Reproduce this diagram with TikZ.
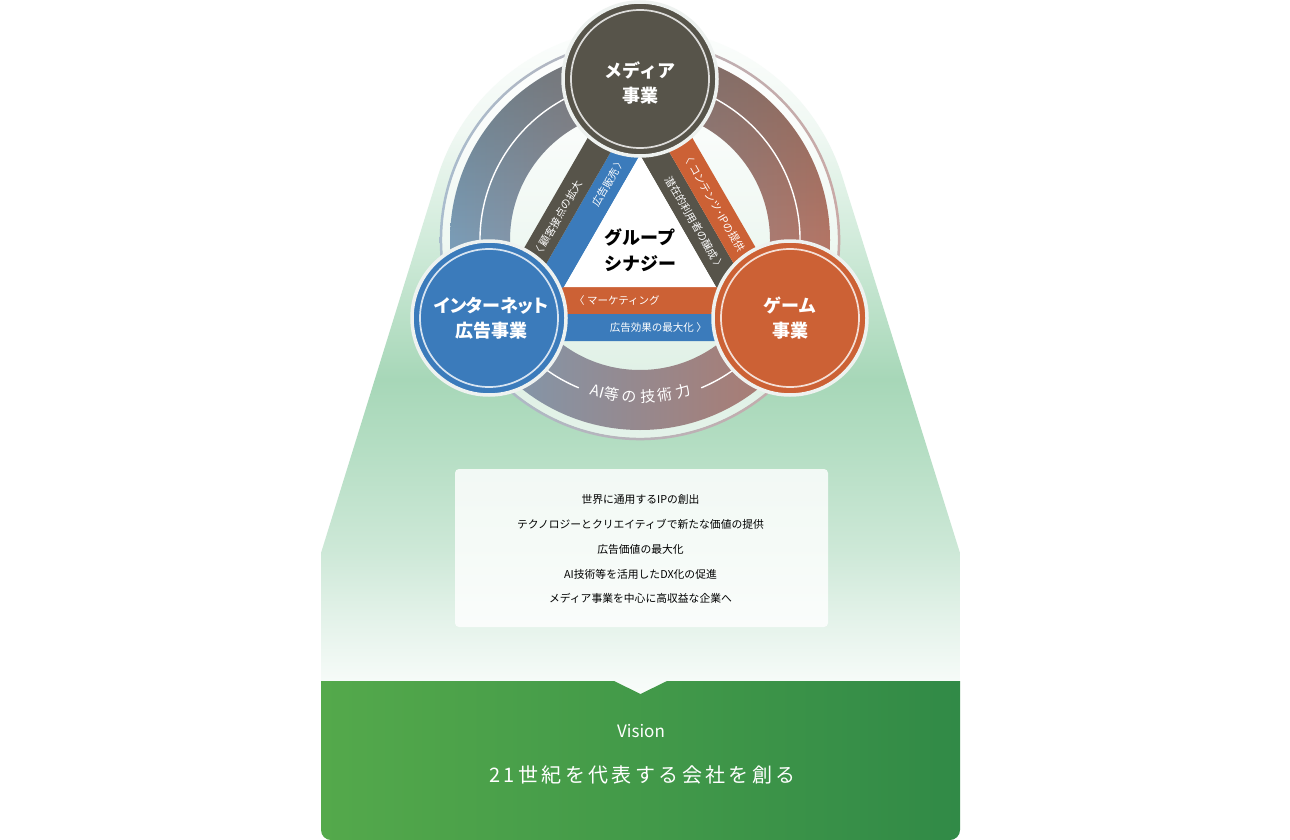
\documentclass[tikz,border=0pt]{standalone}
\usepackage{fontspec}
\setmainfont{Noto Sans CJK JP}
\newfontfamily\jpsp[LetterSpace=17]{Noto Sans CJK JP}
\usetikzlibrary{fadings,calc}
\definecolor{mediac}{HTML}{57544A}
\definecolor{netc}{HTML}{3B7BBB}
\definecolor{gamec}{HTML}{CC6135}
\definecolor{ringl}{HTML}{7A9CB6}
\definecolor{ringm}{HTML}{968B92}
\definecolor{ringr}{HTML}{B37565}
\definecolor{thinl}{HTML}{A9BCCD}
\definecolor{thinr}{HTML}{C9A9A6}
\definecolor{ringwhite}{HTML}{EEF2F0}
\definecolor{vgl}{HTML}{54A94B}
\definecolor{vgr}{HTML}{318A47}
\definecolor{fa}{HTML}{F9FCFA}
\definecolor{fb}{HTML}{F6FBF8}
\definecolor{fc}{HTML}{E3F2E9}
\definecolor{fd}{HTML}{CDE8D7}
\definecolor{fe}{HTML}{B3DDC2}
\definecolor{ff}{HTML}{A7D7B8}
\definecolor{fg}{HTML}{D3ECDC}
\definecolor{fh}{HTML}{F0F8F3}
\pgfdeclareverticalshading{funnelshade}{100bp}{color(0bp)=(fa); color(25bp)=(fa); color(26.1bp)=(fb); color(30.6bp)=(fc); color(35.5bp)=(fd); color(43.3bp)=(fe); color(47.8bp)=(ff); color(58.3bp)=(fg); color(65.7bp)=(fh); color(75bp)=(white); color(100bp)=(white)}
\tikzfading[name=topdarkfade, top color=transparent!55, bottom color=transparent!100, middle color=transparent!100]
\begin{document}
\begin{tikzpicture}[x=1pt,y=-1pt,
  biz/.style={circle, minimum size=154pt, inner sep=0pt, draw=ringwhite, line width=3.5pt},
  bizlabel/.style={text=white, align=center, inner sep=0pt, font=\bfseries\fontsize{18}{25}\selectfont},
  innerring/.style={draw=white, draw opacity=0.8, line width=1.7pt},
  bandtxt/.style={text=white, inner sep=0pt, font=\fontsize{10.5}{12}\selectfont},
  aitxt/.style={text=white, inner sep=0pt, font=\fontsize{15}{16}\selectfont},
  goaltxt/.style={text=black, inner sep=0pt, font=\fontsize{10.8}{12}\selectfont},
  synergy/.style={text=black, align=center, inner sep=0pt, font=\bfseries\fontsize{18}{26}\selectfont}]
\useasboundingbox (0,0) rectangle (1290,840);
\fill[white] (0,0) rectangle (1290,840);
% funnel background
\shade[shading=funnelshade] (321,695) -- (321,553) -- (437.5,177.2)
  arc[start angle=197.22, end angle=342.78, radius=212] -- (960,553) -- (960,695) -- cycle;
% vision box
\shade[left color=vgl, right color=vgr] (321,681) -- (614,681) -- (640.5,694) -- (667,681) -- (960,681) -- (960,830)
  arc[start angle=0, end angle=90, radius=10] -- (331,840) arc[start angle=90, end angle=180, radius=10] -- cycle;
\node[text=white, inner sep=0pt, font=\fontsize{17}{19}\selectfont] (vision) at (641,731) {Vision};
\node[text=white, inner sep=0pt, font=\jpsp\fontsize{20}{22}\selectfont] (mission) at (642.5,775) {21世紀を代表する会社を創る};
% goals box
\node[fill=white, fill opacity=0.82, rounded corners=4pt, minimum width=373pt, minimum height=158pt, inner sep=0pt] (goals) at (641.5,548) {};
\node[goaltxt] (g1) at (640.5,499) {世界に通用するIPの創出};
\node[goaltxt] (g2) at (640.5,524) {テクノロジーとクリエイティブで新たな価値の提供};
\node[goaltxt] (g3) at (640.5,549) {広告価値の最大化};
\node[goaltxt] (g4) at (640.5,574) {AI技術等を活用したDX化の促進};
\node[goaltxt] (g5) at (640.5,598) {メディア事業を中心に高収益な企業へ};
% ring
\coordinate (rc) at (640,240);
\fill[white, fill opacity=0.65] (rc) circle (198);
\shade[left color=ringl, middle color=ringm, right color=ringr, even odd rule] (rc) circle (190) (rc) circle (130);
\fill[mediac, path fading=topdarkfade, even odd rule] (rc) circle (190) (rc) circle (130);
\shade[left color=thinl, right color=thinr, even odd rule] (rc) circle (200.3) (rc) circle (197.8);
\draw[white, line width=1.4pt] (rc) ++(112.5:160) arc[start angle=112.5, end angle=427.5, radius=160];
\foreach \c/\a [count=\i] in {AI/-15.7, 等/-10.2, の/-4.0, 技/2.9, 術/9.1, 力/16.1}
  \node[aitxt, rotate=\a] (ai\i) at ({640+157*sin(\a)},{240+157*cos(\a)}) {\c};
% triangle bands
\coordinate (A0) at (640,155);   \coordinate (L0) at (564,287);   \coordinate (R0) at (716,287);
\coordinate (A1) at (640,101.3); \coordinate (L1) at (517.2,314); \coordinate (R1) at (762.8,314);
\coordinate (A2) at (640,47.3);  \coordinate (L2) at (470.4,341); \coordinate (R2) at (809.6,341);
\fill[netc]   (A0) -- (L0) -- (L1) -- (A1) -- cycle;
\fill[mediac] (A1) -- (L1) -- (L2) -- (A2) -- cycle;
\fill[mediac] (A0) -- (R0) -- (R1) -- (A1) -- cycle;
\fill[gamec]  (A1) -- (R1) -- (R2) -- (A2) -- cycle;
\fill[gamec]  (L0) -- (R0) -- (R1) -- (L1) -- cycle;
\fill[netc]   (L1) -- (R1) -- (R2) -- (L2) -- cycle;
\fill[white]  (A0) -- (L0) -- (R0) -- cycle;
\node[bandtxt, rotate=60] (lb1) at (609,182) {広告販売 〉};
\node[bandtxt, rotate=60] (lb2) at (557.5,219) {〈 顧客接点の拡大};
\node[bandtxt, rotate=-60] (lb3) at (695.2,223.6) {潜在的利用者の醸成 〉};
\node[bandtxt, rotate=-60] (lb4) at (714.1,202.3) {〈 コンテンツ･IPの提供};
\node[bandtxt, anchor=west] (lb5) at (574,300.5) {〈 マーケティング};
\node[bandtxt, anchor=east] (lb6) at (707,327.5) {広告効果の最大化 〉};
\node[synergy] (syn) at (640,250) {グループ\\シナジー};
% business circles
\node[biz, fill=mediac] (media) at (640,79) {};
\node[biz, fill=netc] (net) at (489,318) {};
\node[biz, fill=gamec] (game) at (790,318) {};
\draw[innerring] (media.center) circle (69);
\draw[innerring] (net.center) circle (69);
\draw[innerring] (game.center) circle (69);
\node[bizlabel] (mediatext) at (640,83) {メディア\\事業};
\node[bizlabel] (nettext) at (491,318.5) {{\addfontfeature{RawFeature=+palt}インターネット}\\広告事業};
\node[bizlabel] (gametext) at (790,318.5) {ゲーム\\事業};
\end{tikzpicture}
\end{document}
